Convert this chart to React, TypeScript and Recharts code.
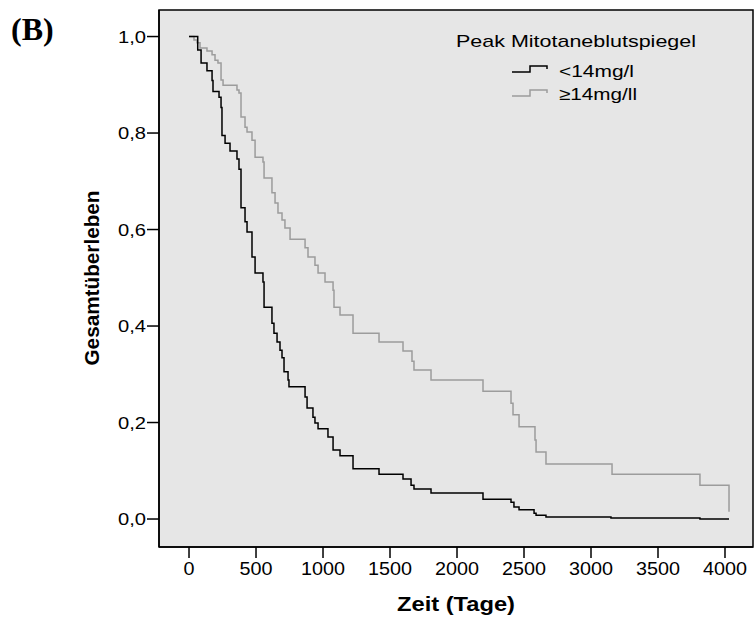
import { LineChart, Line, XAxis, YAxis, CartesianGrid, ReferenceArea, Label } from "recharts";

// Kaplan-Meier steps (time in days, survival fraction)
const lowTimes = [
  0, 65, 90, 134, 172, 179, 224, 239, 246, 269, 306, 358, 373, 388, 418, 433, 470, 493, 552, 560,
  619, 634, 657, 679, 694, 709, 739, 746, 866, 881, 925, 940, 963, 1037, 1075, 1127, 1224, 1418, 1597, 1657,
  1679, 1806, 2194, 2403, 2425, 2463, 2575, 2590, 2664, 3149, 3813, 4030,
];
const lowSurv = [
  1.0, 0.972, 0.945, 0.929, 0.909, 0.886, 0.874, 0.853, 0.795, 0.779, 0.763, 0.746, 0.725, 0.645, 0.616, 0.595, 0.543, 0.51, 0.491, 0.439,
  0.406, 0.385, 0.367, 0.35, 0.334, 0.305, 0.288, 0.274, 0.253, 0.23, 0.211, 0.199, 0.187, 0.17, 0.143, 0.131, 0.104, 0.093, 0.083, 0.07,
  0.062, 0.054, 0.041, 0.035, 0.025, 0.019, 0.012, 0.008, 0.004, 0.002, 0.0, 0.0,
];

const highTimes = [
  0, 37, 60, 82, 134, 172, 194, 216, 239, 254, 358, 373, 388, 418, 433, 470, 493, 552, 560, 619,
  642, 664, 694, 716, 754, 866, 888, 940, 963, 1015, 1075, 1082, 1127, 1224, 1418, 1597, 1664, 1679, 1806, 2194,
  2403, 2418, 2463, 2582, 2590, 2664, 3157, 3813, 4030,
];
const highSurv = [
  1.0, 0.993, 0.987, 0.976, 0.97, 0.962, 0.951, 0.945, 0.91, 0.899, 0.889, 0.883, 0.833, 0.812, 0.802, 0.785, 0.75, 0.74, 0.707, 0.676,
  0.655, 0.634, 0.62, 0.603, 0.58, 0.562, 0.543, 0.526, 0.51, 0.491, 0.474, 0.439, 0.423, 0.385, 0.367, 0.348, 0.327, 0.309, 0.288, 0.265,
  0.24, 0.216, 0.191, 0.164, 0.139, 0.114, 0.093, 0.07, 0.015,
];

const xTicks = [0, 500, 1000, 1500, 2000, 2500, 3000, 3500, 4000];
const yTicks = [0, 0.2, 0.4, 0.6, 0.8, 1.0];

const seriesNames = ["<14mg/l", "≥14mg/ll"];
const seriesColors = ["#000000", "#9c9c9c"];

const X_DOMAIN = [-224, 4209];
const Y_DOMAIN = [-0.058, 1.055];

const lowData = lowTimes.map((t, i) => ({ t, s: lowSurv[i] }));
const highData = highTimes.map((t, i) => ({ t, s: highSurv[i] }));

const FONT = "Arial, 'Liberation Sans', Helvetica, sans-serif";

const formatY = (v: number) => v.toFixed(1).replace(".", ",");

// custom ticks so the (slightly wide) SPSS lettering can be matched
const XTick = (props: any) => {
  const { x, y, payload } = props;
  const label = String(payload.value);
  return (
    <text
      x={x}
      y={y + 17}
      textAnchor="middle"
      fontFamily={FONT}
      fontSize={18}
      textLength={label.length * 11}
      lengthAdjust="spacingAndGlyphs"
      fill="#000"
    >
      {label}
    </text>
  );
};

const YTick = (props: any) => {
  const { x, y, payload } = props;
  return (
    <text
      x={x - 1}
      y={y + 6}
      textAnchor="end"
      fontFamily={FONT}
      fontSize={17}
      textLength={28}
      lengthAdjust="spacingAndGlyphs"
      fill="#000"
    >
      {formatY(payload.value)}
    </text>
  );
};

function StepIcon({ x, y, color }: { x: number; y: number; color: string }) {
  // little step glyph like the SPSS legend
  return (
    <path
      d={`M${x},${y} H${x + 18} V${y - 6} H${x + 35} V${y - 3}`}
      fill="none"
      stroke={color}
      strokeWidth={1.5}
    />
  );
}

export default function App() {
  return (
    <div style={{ position: "absolute", left: 0, top: 0, width: 754, height: 617, background: "#fff" }}>
      <LineChart width={754} height={617} margin={{ top: 10, right: 1, bottom: 0, left: 0 }}>
        <CartesianGrid horizontal={false} vertical={false} fill="#e6e6e6" />
        <XAxis
          type="number"
          dataKey="t"
          domain={X_DOMAIN}
          ticks={xTicks}
          allowDataOverflow
          height={70}
          tickSize={11}
          tickMargin={0}
          axisLine={{ stroke: "#000", strokeWidth: 1.5 }}
          tickLine={{ stroke: "#000", strokeWidth: 1.5 }}
          tick={<XTick />}
        >
          <Label
            content={() => (
              <text
                x={456}
                y={611}
                textAnchor="middle"
                fontFamily={FONT}
                fontWeight="bold"
                fontSize={20}
                textLength={118}
                lengthAdjust="spacingAndGlyphs"
                fill="#000"
              >
                Zeit (Tage)
              </text>
            )}
          />
        </XAxis>
        <YAxis
          type="number"
          domain={Y_DOMAIN}
          ticks={yTicks}
          allowDataOverflow
          width={159}
          tickSize={12}
          tickMargin={0}
          axisLine={{ stroke: "#000", strokeWidth: 1.5 }}
          tickLine={{ stroke: "#000", strokeWidth: 1.5 }}
          tick={<YTick />}
        >
          <Label
            content={() => (
              <text
                x={99}
                y={278}
                transform="rotate(-90 99 278)"
                textAnchor="middle"
                fontFamily={FONT}
                fontWeight="bold"
                fontSize={20}
                textLength={175}
                lengthAdjust="spacingAndGlyphs"
                fill="#000"
              >
                Gesamtüberleben
              </text>
            )}
          />
        </YAxis>
        <ReferenceArea
          x1={X_DOMAIN[0]}
          x2={X_DOMAIN[1]}
          y1={Y_DOMAIN[0]}
          y2={Y_DOMAIN[1]}
          fill="none"
          stroke="#000"
          strokeWidth={1.5}
          ifOverflow="visible"
        />
        <Line
          data={highData}
          dataKey="s"
          type="stepAfter"
          stroke={seriesColors[1]}
          strokeWidth={1.5}
          dot={false}
          activeDot={false}
          isAnimationActive={false}
          name={seriesNames[1]}
        />
        <Line
          data={lowData}
          dataKey="s"
          type="stepAfter"
          stroke={seriesColors[0]}
          strokeWidth={1.5}
          dot={false}
          activeDot={false}
          isAnimationActive={false}
          name={seriesNames[0]}
        />
      </LineChart>

      {/* panel letter and legend overlay */}
      <svg width={754} height={617} style={{ position: "absolute", left: 0, top: 0, pointerEvents: "none" }}>
        <text x={11} y={40} fontFamily="'Liberation Serif', 'Times New Roman', serif" fontWeight="bold" fontSize={32} fill="#000">
          (B)
        </text>
        <text x={456} y={47} fontFamily={FONT} fontSize={17} textLength={240} lengthAdjust="spacingAndGlyphs" fill="#000">
          Peak Mitotaneblutspiegel
        </text>
        <StepIcon x={512} y={72} color={seriesColors[0]} />
        <text x={559} y={77} fontFamily={FONT} fontSize={17} textLength={75} lengthAdjust="spacingAndGlyphs" fill="#000">
          {seriesNames[0]}
        </text>
        <StepIcon x={512} y={96} color={seriesColors[1]} />
        <text x={559} y={100} fontFamily={FONT} fontSize={17} textLength={78} lengthAdjust="spacingAndGlyphs" fill="#000">
          {seriesNames[1]}
        </text>
      </svg>
    </div>
  );
}
